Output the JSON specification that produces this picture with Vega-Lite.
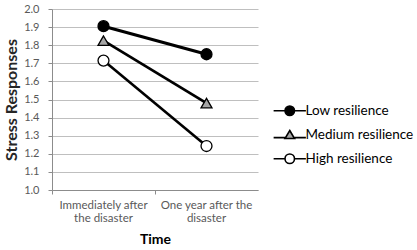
{
  "$schema": "https://vega.github.io/schema/vega-lite/v6.json",
  "autosize": "none",
  "width": 206,
  "height": 181,
  "padding": {"left": 52, "top": 9, "right": 159, "bottom": 60},
  "config": {
    "font": "Lato",
    "view": {"stroke": null},
    "axis": {
      "labelFont": "Lato",
      "titleFont": "Lato",
      "labelColor": "#595959",
      "titleColor": "#262626",
      "domainColor": "#8c8c8c",
      "tickColor": "#8c8c8c",
      "gridColor": "#bfbfbf",
      "labelFontSize": 11,
      "titleFontSize": 16,
      "titleFontWeight": "bold"
    },
    "legend": {"padding": 0}
  },
  "data": {
    "values": [
      {"time": "Immediately after|the disaster", "group": "Low resilience", "value": 1.905},
      {"time": "One year after the|disaster", "group": "Low resilience", "value": 1.75},
      {"time": "Immediately after|the disaster", "group": "Medium resilience", "value": 1.825},
      {"time": "One year after the|disaster", "group": "Medium resilience", "value": 1.48},
      {"time": "Immediately after|the disaster", "group": "High resilience", "value": 1.715},
      {"time": "One year after the|disaster", "group": "High resilience", "value": 1.243}
    ]
  },
  "encoding": {
    "x": {
      "field": "time",
      "type": "nominal",
      "sort": null,
      "scale": {"type": "band", "paddingInner": 0, "paddingOuter": 0},
      "axis": {
        "title": "Time",
        "titleFontSize": 14,
        "titleColor": "#000000",
        "titlePadding": 9,
        "labelAngle": 0,
        "labelExpr": "split(datum.label, '|')",
        "labelLineHeight": 13,
        "labelFontSize": 11.5,
        "labelPadding": 5,
        "tickSize": 4,
        "bandPosition": 0,
        "grid": false
      }
    },
    "y": {
      "field": "value",
      "type": "quantitative",
      "scale": {"domain": [1.0, 2.0], "nice": false, "zero": false},
      "axis": {
        "title": "Stress Responses",
        "values": [1.0, 1.1, 1.2, 1.3, 1.4, 1.5, 1.6, 1.7, 1.8, 1.9, 2.0],
        "format": ".1f",
        "tickSize": 4,
        "labelPadding": 9,
        "titlePadding": 4,
        "grid": true
      }
    }
  },
  "resolve": {
    "scale": {"shape": "independent", "fill": "independent", "strokeWidth": "independent", "stroke": "independent"},
    "legend": {"shape": "independent", "fill": "independent", "strokeWidth": "independent", "stroke": "independent"}
  },
  "layer": [
    {
      "mark": {"type": "line", "color": "#000000"},
      "encoding": {
        "detail": {"field": "group"},
        "strokeWidth": {
          "field": "group",
          "type": "nominal",
          "scale": {"domain": ["Low resilience", "Medium resilience", "High resilience"], "range": [3, 2.6, 1.5]},
          "legend": null
        }
      }
    },
    {
      "mark": {"type": "point", "filled": true, "size": 120, "stroke": "#000000", "strokeWidth": 1.3, "opacity": 1},
      "encoding": {
        "shape": {
          "field": "group",
          "type": "nominal",
          "scale": {"domain": ["Low resilience", "Medium resilience", "High resilience"], "range": ["circle", "triangle-up", "circle"]},
          "legend": null
        },
        "fill": {
          "field": "group",
          "type": "nominal",
          "scale": {"domain": ["Low resilience", "Medium resilience", "High resilience"], "range": ["#000000", "#a6a6a6", "#ffffff"]},
          "legend": null
        }
      }
    },
    {
      "transform": [{"filter": "false"}],
      "mark": {"type": "point", "filled": true, "strokeWidth": 1.6, "opacity": 1},
      "encoding": {
        "shape": {
          "field": "group",
          "type": "nominal",
          "scale": {
            "domain": ["Low resilience", "Medium resilience", "High resilience"],
            "range": [
              "M-3.4,0H-1M1,0H3.4M1,0A1,1,0,1,1,-1,0A1,1,0,1,1,1,0Z",
              "M-3.4,0.6H-1M1,0.6H3.4M0,-0.9L1,0.8L-1,0.8Z",
              "M-3.4,0H-1M1,0H3.4M1,0A1,1,0,1,1,-1,0A1,1,0,1,1,1,0Z"
            ]
          },
          "legend": {
            "title": null,
            "orient": "none",
            "legendX": 231,
            "legendY": 95,
            "labelFont": "Lato",
            "labelFontSize": 13.5,
            "labelColor": "#000000",
            "labelOffset": 9,
            "rowPadding": 8,
            "symbolSize": 90,
            "symbolOpacity": 1,
            "symbolStrokeWidth": 1.6
          }
        },
        "fill": {
          "field": "group",
          "type": "nominal",
          "scale": {"domain": ["Low resilience", "Medium resilience", "High resilience"], "range": ["#000000", "#a6a6a6", "#ffffff"]}
        },
        "stroke": {
          "field": "group",
          "type": "nominal",
          "scale": {"domain": ["Low resilience", "Medium resilience", "High resilience"], "range": ["#000000", "#000000", "#000000"]}
        }
      }
    }
  ]
}
